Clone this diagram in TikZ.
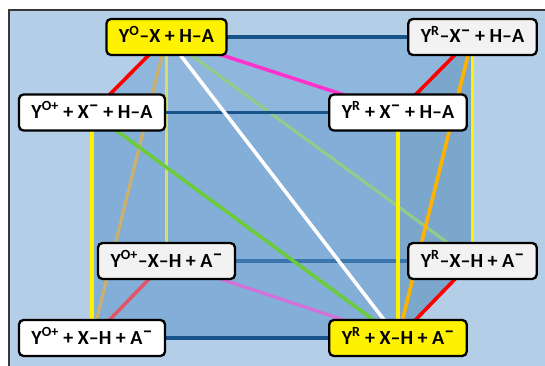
\documentclass[tikz,border=0pt]{standalone}
\usepackage{fontspec}
\setmainfont{Carlito}
\newcommand\supdash{\raisebox{0.34em}{–}}
\newcommand\sups[1]{\textsuperscript{#1}}
\pgfdeclarelayer{bglayer}
\pgfdeclarelayer{linelayer}
\pgfsetlayers{bglayer,linelayer,main}
\definecolor{panelblue}{HTML}{B3CEE6}
\definecolor{topface}{HTML}{8FB6DC}
\definecolor{frontface}{HTML}{82AED8}
\definecolor{rightface}{HTML}{7BA7CD}
\definecolor{navy}{HTML}{17528A}
\definecolor{steel}{HTML}{3A76AD}
\definecolor{paleyellow}{HTML}{D6DD6E}
\definecolor{softred}{HTML}{E2566A}
\definecolor{brightmag}{HTML}{FF33CC}
\definecolor{orchidline}{HTML}{D86FD8}
\definecolor{greenline}{HTML}{6CCB3A}
\definecolor{lightgreen}{HTML}{93CC8A}
\definecolor{tanline}{HTML}{CDB06A}
\definecolor{orangeline}{HTML}{FFB300}
\definecolor{lightgray}{HTML}{F2F2F2}
\tikzset{
  box/.style={draw=black, line width=2.3pt, rounded corners=4.5pt, inner xsep=12.5pt, inner ysep=0pt,
    minimum height=36pt, font=\fontsize{20}{22}\selectfont\bfseries, text height=13pt, text depth=1pt},
  frontbox/.style={box, fill=white},
  backbox/.style={box, fill=lightgray},
  hibox/.style={box, fill=yellow},
  conn/.style={line width=3.6pt},
  thinconn/.style={line width=3.1pt}
}
\begin{document}
\begin{tikzpicture}[x=1pt,y=-1pt]
\useasboundingbox (0,0) rectangle (545,366);
% nodes
\node[hibox]   (btl) at (166.5,37)  {Y\sups{O}–X + H–A};
\node[backbox] (btr) at (472.5,37)  {Y\sups{R}–X\supdash{} + H–A};
\node[frontbox](ftl) at (92,112.5)  {Y\sups{O+} + X\supdash{} + H–A};
\node[frontbox](ftr) at (398,112.5) {Y\sups{R} + X\supdash{} + H–A};
\node[backbox] (bbl) at (166.5,261) {Y\sups{O+}–X–H + A\supdash};
\node[backbox] (bbr) at (472.5,261) {Y\sups{R}–X–H + A\supdash};
\node[frontbox](fbl) at (92,338)    {Y\sups{O+} + X–H + A\supdash};
\node[hibox]   (fbr) at (398,338)   {Y\sups{R} + X–H + A\supdash};
\begin{pgfonlayer}{bglayer}
  \fill[panelblue] (8,9) rectangle (545,366);
  \draw[line width=1.8pt, black!78] (8.9,366) -- (8.9,9.9) -- (545,9.9);
  \fill[topface] (ftl.center) -- (btl.center) -- (btr.center) -- (ftr.center) -- cycle;
  \fill[frontface] (ftl.center) rectangle (fbr.center);
  \fill[rightface] (ftr.center) -- (btr.center) -- (bbr.center) -- (fbr.center) -- cycle;
\end{pgfonlayer}
\begin{pgfonlayer}{linelayer}
  % back lines
  \draw[thinconn, steel] (bbl.center) -- (bbr.center);
  \draw[thinconn, paleyellow] (btl.center) -- (bbl.center);
  \draw[conn, softred] (bbl.center) -- (fbl.center);
  \draw[thinconn, lightgreen] (btl.center) -- (bbr.center);
  \draw[thinconn, tanline] (btl.center) -- (fbl.center);
  \draw[thinconn, orchidline] (bbl.center) -- (fbr.center);
  % front lines
  \draw[conn, navy] (btl.center) -- (btr.center);
  \draw[conn, navy] (ftl.center) -- (ftr.center);
  \draw[conn, navy] (fbl.center) -- (fbr.center);
  \draw[conn, yellow] (ftl.center) -- (fbl.center);
  \draw[conn, yellow] (ftr.center) -- (fbr.center);
  \draw[conn, yellow] (btr.center) -- (bbr.center);
  \draw[conn, red] (ftl.center) -- (btl.center);
  \draw[conn, red] (ftr.center) -- (btr.center);
  \draw[conn, red] (fbr.center) -- (bbr.center);
  \draw[conn, brightmag] (btl.center) -- (ftr.center);
  \draw[conn, white] (btl.center) -- (fbr.center);
  \draw[conn, greenline] (ftl.center) -- (fbr.center);
  \draw[conn, orangeline] (btr.center) -- (fbr.center);
\end{pgfonlayer}
\end{tikzpicture}
\end{document}
